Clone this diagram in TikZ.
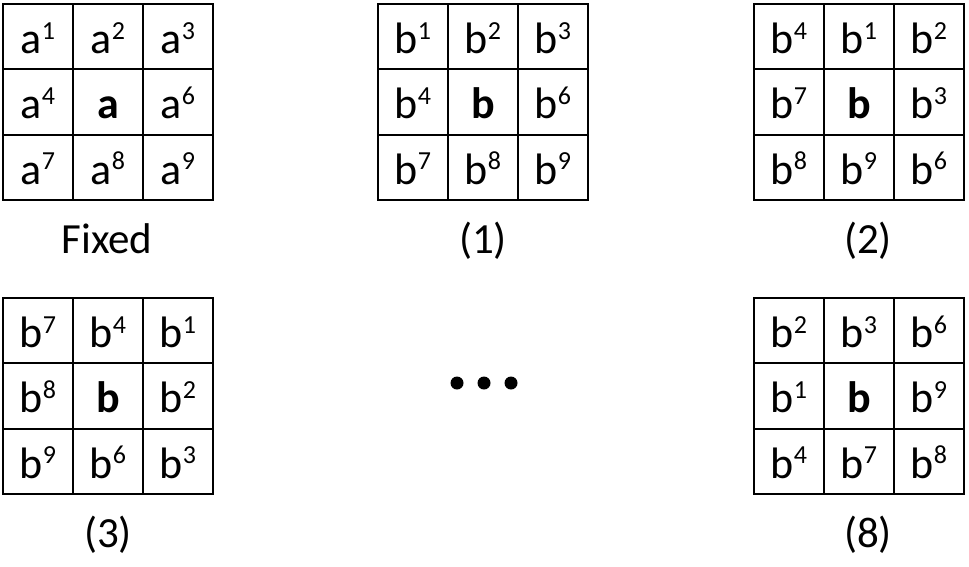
\documentclass[tikz,border=0pt]{standalone}
\usepackage{fontspec}
\setmainfont{Carlito}
\newcommand\supnum[1]{\raisebox{14.5pt}{\fontsize{26}{28}\selectfont #1}}
\tikzset{
  cell/.style={draw, line width=2pt, minimum width=70pt, minimum height=65.3pt, inner sep=0pt, font=\fontsize{44}{48}\selectfont, text height=34pt, text depth=0pt},
  caption/.style={font=\fontsize{43}{46}\selectfont, inner sep=0pt, anchor=base},
  dotmark/.style={circle, fill=black, minimum size=13pt, inner sep=0pt}
}
\newcommand\mygrid[4]{%
  \foreach \t [count=\i from 0] in {#4} {
    \pgfmathtruncatemacro\cc{mod(\i,3)}
    \pgfmathtruncatemacro\rr{div(\i,3)}
    \node[cell] (#1-\i) at ({#2+35+70*\cc},{#3+32.65+65.3*\rr}) {\t};
  }%
}
\begin{document}
\begin{tikzpicture}[x=1pt,y=-1pt]
\useasboundingbox (0,0) rectangle (969,566);
\mygrid{fx}{3}{4}{a\supnum{1},a\supnum{2},a\supnum{3},a\supnum{4},\textbf{a},a\supnum{6},a\supnum{7},a\supnum{8},a\supnum{9}}
\mygrid{g1}{378}{4}{b\supnum{1},b\supnum{2},b\supnum{3},b\supnum{4},\textbf{b},b\supnum{6},b\supnum{7},b\supnum{8},b\supnum{9}}
\mygrid{g2}{754}{4}{b\supnum{4},b\supnum{1},b\supnum{2},b\supnum{7},\textbf{b},b\supnum{3},b\supnum{8},b\supnum{9},b\supnum{6}}
\mygrid{g3}{3}{298}{b\supnum{7},b\supnum{4},b\supnum{1},b\supnum{8},\textbf{b},b\supnum{2},b\supnum{9},b\supnum{6},b\supnum{3}}
\mygrid{g8}{754}{298}{b\supnum{2},b\supnum{3},b\supnum{6},b\supnum{1},\textbf{b},b\supnum{9},b\supnum{4},b\supnum{7},b\supnum{8}}
\node[caption] (lfx) at (107,253) {Fixed};
\node[caption] (l1) at (483,253) {(1)};
\node[caption] (l2) at (868,253) {(2)};
\node[caption] (l3) at (108,547) {(3)};
\node[caption] (l8) at (868,547) {(8)};
\node[dotmark] (d1) at (457,383) {};
\node[dotmark] (d2) at (484,383) {};
\node[dotmark] (d3) at (511,383) {};
\end{tikzpicture}
\end{document}
